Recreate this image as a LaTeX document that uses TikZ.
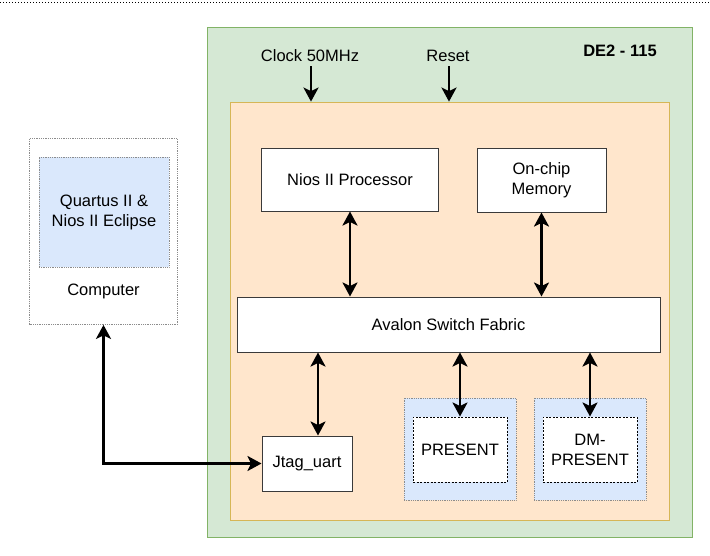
\documentclass[tikz,border=0pt]{standalone}
\usepackage{fontspec}
\setmainfont{Liberation Sans}
\usetikzlibrary{positioning,arrows.meta}
\definecolor{boardfill}{HTML}{D5E8D4}
\definecolor{boardline}{HTML}{82B366}
\definecolor{fpgafill}{HTML}{FFE6CC}
\definecolor{fpgaline}{HTML}{D6B656}
\definecolor{swfill}{HTML}{DAE8FC}
\definecolor{grayline}{HTML}{8C8C8C}
\definecolor{boxline}{HTML}{3A3A3A}

\begin{document}
\begin{tikzpicture}[
      x=1pt, y=-1pt,
      every node/.style={font=\fontsize{16.5}{20}\selectfont, align=center},
      boardbox/.style={draw=boardline, fill=boardfill, line width=0.8pt, inner sep=0pt},
      fpgabox/.style={draw=fpgaline, fill=fpgafill, line width=0.8pt, inner sep=0pt},
      blockbox/.style={draw=boxline, fill=white, line width=1pt, inner sep=0pt},
      ipbg/.style={draw=grayline, fill=swfill, densely dotted, line width=0.8pt, inner sep=0pt,
        minimum width=112pt, minimum height=102pt},
      ipbox/.style={draw=black, fill=white, dashed, dash pattern=on 2pt off 1.5pt,
        line width=1pt, inner sep=0pt, minimum width=94pt, minimum height=65pt},
      biarrow/.style={{Stealth[length=14pt,width=15pt,inset=3.5pt]}-{Stealth[length=14pt,width=15pt,inset=3.5pt]},
        line width=2.5pt},
      inarrow/.style={-{Stealth[length=14pt,width=15pt,inset=3.5pt]}, line width=2.5pt}
    ]
      \useasboundingbox (0,0) rectangle (710,555);
      \draw[black, dotted, line width=1pt] (0,2) -- (710,2);

      % board and FPGA
      \node[boardbox, minimum width=485pt, minimum height=510pt] (de2) at (449.5,282) {};
      \node[fpgabox, minimum width=439pt, minimum height=418pt] (fpga) at (449.5,311) {};
      \node[font=\fontsize{16.5}{20}\selectfont\bfseries] (de2name) at (620,51) {DE2 - 115};
      \node (clk) at (310,56) {Clock 50MHz};
      \node (rst) at (448,56) {Reset};
      \coordinate (clkin) at (311,66);
      \coordinate (rstin) at (449,66);
      \draw[inarrow] (clkin) -- (clkin |- fpga.north);
      \draw[inarrow] (rstin) -- (rstin |- fpga.north);

      % system blocks
      \node[blockbox, minimum width=177pt, minimum height=63pt] (nios) at (350,179.5) {Nios II Processor};
      \node[blockbox, minimum width=129pt, minimum height=64pt] (mem) at (541.5,180) {On-chip\\Memory};
      \node[blockbox, minimum width=423pt, minimum height=55pt] (avalon) at (448.5,324.5) {Avalon Switch Fabric};
      \node[blockbox, minimum width=90pt, minimum height=55pt] (jtag) at (307,463.5) {Jtag\_uart};
      \node[ipbg] (presentbg) at (460,449) {};
      \node[ipbox] (present) at (460,449.5) {PRESENT};
      \node[ipbg] (dmbg) at (590,449) {};
      \node[ipbox] (dm) at (590,449.5) {DM-\\PRESENT};

      % computer
      \node[draw=grayline, fill=white, densely dotted, line width=0.8pt,
        minimum width=148pt, minimum height=186pt] (pc) at (103.5,231.5) {};
      \node[draw=grayline, fill=swfill, densely dotted, line width=0.8pt,
        minimum width=130pt, minimum height=110pt] (sw) at (104,212) {Quartus II \&\\Nios II Eclipse};
      \node (pclabel) at (103.5,291) {Computer};

      % connections
      \coordinate (jt) at ([xshift=11pt]jtag.north);
      \draw[biarrow] (nios.south) -- (nios.south |- avalon.north);
      \draw[biarrow] (mem.south) -- (mem.south |- avalon.north);
      \draw[biarrow] (jt |- avalon.south) -- (jt);
      \draw[biarrow] (present.north |- avalon.south) -- (present.north);
      \draw[biarrow] (dm.north |- avalon.south) -- (dm.north);
      \draw[biarrow] (pc.south) |- (jtag.west);
    \end{tikzpicture}
\end{document}
